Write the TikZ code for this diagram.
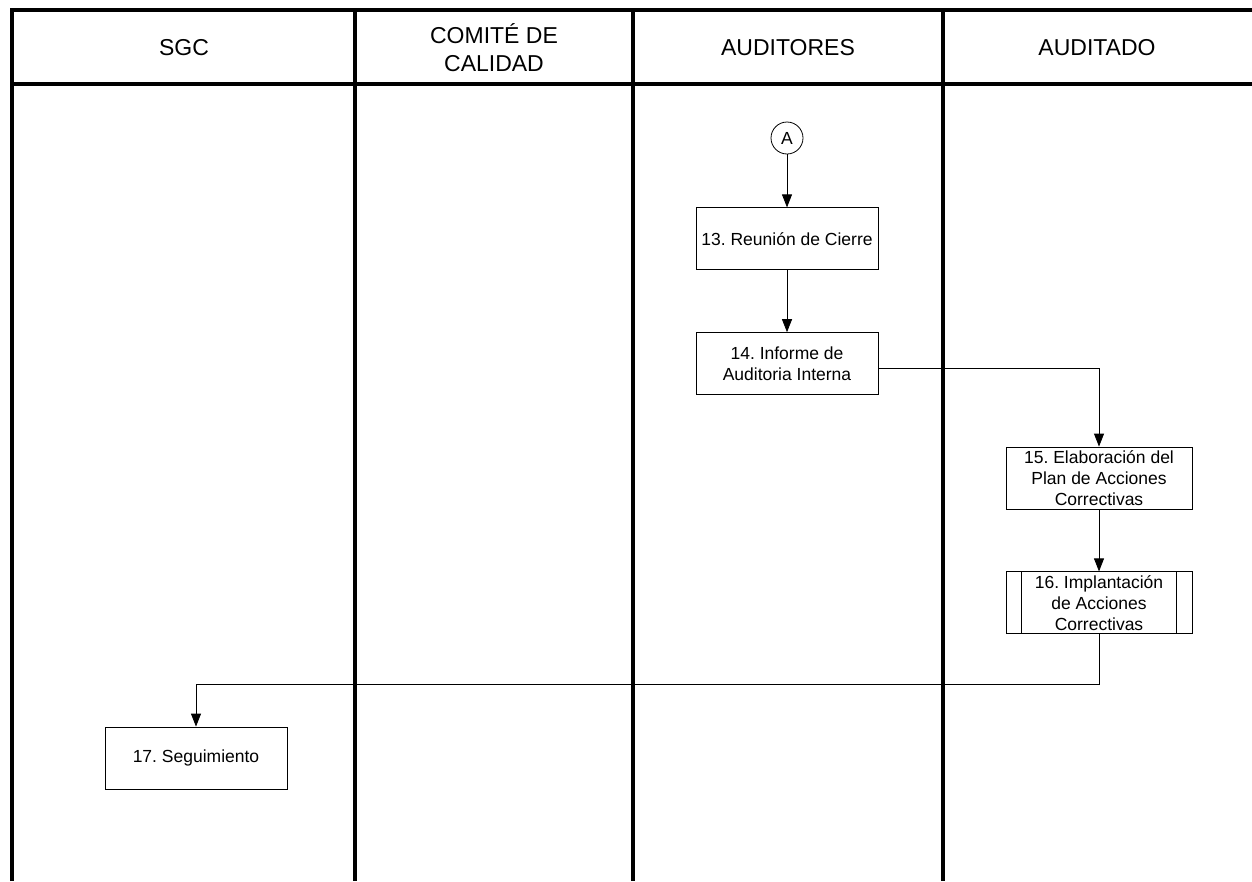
\documentclass[tikz,border=0pt]{standalone}
\usepackage{fontspec}
\setmainfont{Liberation Sans}
\usetikzlibrary{arrows.meta, positioning}
\frenchspacing

\begin{document}
\begin{tikzpicture}[x=1pt, y=-1pt, node distance=53pt,
    lane/.style={line width=4pt},
    hdr/.style={align=center, font=\fontsize{23}{28}\selectfont},
    task/.style={draw, line width=0.8pt, minimum width=182pt, minimum height=62pt, align=center, inner sep=2pt, font=\fontsize{17.5}{21}\selectfont},
    conn/.style={draw, circle, line width=0.8pt, minimum size=32pt, inner sep=0pt, font=\fontsize{17.5}{21}\selectfont},
    flow/.style={line width=0.8pt, -{Triangle[length=13pt, width=10pt]}}]
    \useasboundingbox (0,0) rectangle (1252,881);
    % Lanes
    \draw[lane] (12,881) -- (12,10) -- (1252,10);
    \draw[lane] (12,84) -- (1252,84);
    \foreach \lx in {355, 633, 943}
        \draw[lane] (\lx,10) -- (\lx,881);
    \node[hdr] (hsgc) at (184,48) {SGC};
    \node[hdr] (hcom) at (494,48) {COMITÉ DE\\CALIDAD};
    \node[hdr] (haud) at (788,48) {AUDITORES};
    \node[hdr] (hado) at (1097,48) {AUDITADO};
    % Nodes
    \node[conn] (ca) at (787,138) {A};
    \node[task, below=of ca] (r13) {13. Reunión de Cierre};
    \node[task, below=62pt of r13] (r14) {14. Informe de\\Auditoria Interna};
    \node[task, minimum width=186pt] (r15) at (1099,478) {15. Elaboración del\\Plan de Acciones\\Correctivas};
    \node[task, minimum width=186pt, below=62pt of r15] (r16) {16. Implantación\\de Acciones\\Correctivas};
    \draw[line width=0.8pt] ([xshift=16pt]r16.north west) -- ([xshift=16pt]r16.south west)
        ([xshift=-16pt]r16.north east) -- ([xshift=-16pt]r16.south east);
    \node[task] (r17) at (196,758) {17. Seguimiento};
    % Arrows
    \draw[flow] (ca) -- (r13);
    \draw[flow] (r13) -- (r14);
    \draw[flow] ([yshift=-5pt]r14.east) -| (r15.north);
    \draw[flow] (r15) -- (r16);
    \draw[flow] (r16.south) -- ++(0,50) -| (r17.north);
\end{tikzpicture}
\end{document}
